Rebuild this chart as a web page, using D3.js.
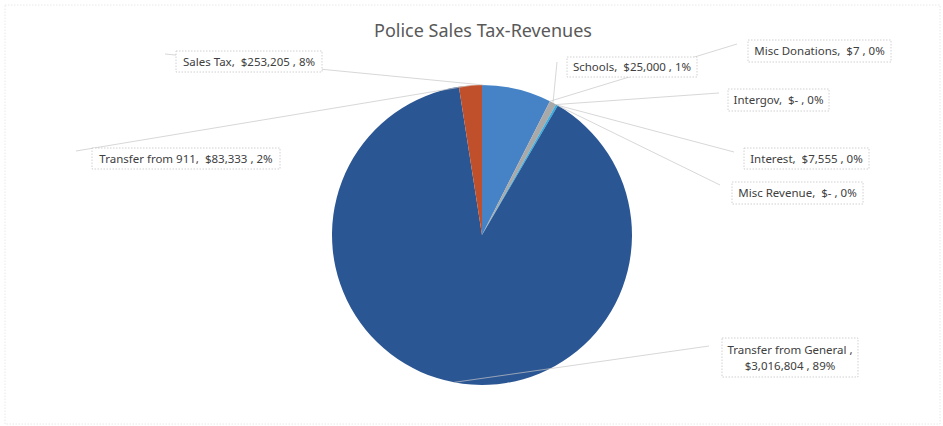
<!DOCTYPE html>
<html>
<head>
<meta charset="utf-8">
<script src="https://cdn.jsdelivr.net/npm/d3@7"></script>
<style>
  body { margin: 0; background: #fff; }
  svg { display: block; font-family: "Noto Sans", "Open Sans", sans-serif; }
  .label text { white-space: pre; }
</style>
</head>
<body>
<svg id="chart"></svg>
<script>
const width = 943;
const height = 426;

// Chart data (order as in the source sheet, clockwise from 12 o'clock)
const categories = ["Sales Tax", "Misc Donations", "Schools", "Intergov", "Interest",
  "Misc Revenue", "Transfer from General ", "Transfer from 911"];
const amounts = [253205, 7, 25000, 0, 7555, 0, 3016804, 83333];
const percentLabels = ["8%", "0%", "1%", "0%", "0%", "0%", "89%", "2%"];
const sliceColors = ["#4683c6", "#d9743a", "#a9a9a9", "#f0b92e", "#35aee0", "#6aa84f", "#2b5694", "#c0502b"];

// Label boxes placement (layout only)
const labelLayout = [
  { x: 176, y: 51, w: 146, h: 21, lx: 165, ly: 54, at: 0.02 },
  { x: 748, y: 40, w: 143, h: 22, lx: 737, ly: 44, at: 0.5 },
  { x: 567, y: 57, w: 130, h: 20, lx: 557, ly: 62, at: 0.5 },
  { x: 728, y: 89, w: 101, h: 22, lx: 719, ly: 93, at: 0.5 },
  { x: 744, y: 148, w: 125, h: 21, lx: 734, ly: 152, at: 0.5 },
  { x: 732, y: 182, w: 131, h: 22, lx: 720, ly: 185, at: 0.5 },
  { x: 722, y: 338, w: 136, h: 39, lx: 709, ly: 346, at: 0.5, wrap: true },
  { x: 92, y: 148, w: 188, h: 21, lx: 76, ly: 151, at: 0.5 }
];

const cx = 482, cy = 235, radius = 150;

const svg = d3.select("#chart")
  .attr("width", width)
  .attr("height", height);

// faint chart area border
svg.append("rect")
  .attr("x", 5).attr("y", 5)
  .attr("width", width - 8).attr("height", height - 7)
  .attr("fill", "none")
  .attr("stroke", "#e8e8e8")
  .attr("stroke-dasharray", "1.5 1.5");

svg.append("text")
  .attr("x", 483)
  .attr("y", 37)
  .attr("text-anchor", "middle")
  .attr("fill", "#595959")
  .style("font-size", "18px")
  .text("Police Sales Tax-Revenues");

const money = v => v === 0 ? "$-" : d3.format("$,")(v);

const slices = categories.map((c, i) => ({
  name: c, value: amounts[i], pct: percentLabels[i], color: sliceColors[i], layout: labelLayout[i]
}));

const pie = d3.pie().sort(null).value(d => d.value);
const arcs = pie(slices);

const arc = d3.arc().innerRadius(0).outerRadius(radius);

const pieGroup = svg.append("g")
  .attr("transform", `translate(${cx},${cy})`);

pieGroup.selectAll("path")
  .data(arcs)
  .enter().append("path")
  .attr("d", arc)
  .attr("fill", d => d.data.color);

// Leader lines
const leaders = svg.append("g");
arcs.forEach(d => {
  const L = d.data.layout;
  const a = d.startAngle + (d.endAngle - d.startAngle) * L.at;
  const px = cx + radius * Math.sin(a);
  const py = cy - radius * Math.cos(a);
  leaders.append("line")
    .attr("x1", L.lx).attr("y1", L.ly)
    .attr("x2", px).attr("y2", py)
    .attr("stroke", "#c6c6c6")
    .attr("stroke-width", 0.7);
});

// Label boxes
const labels = svg.selectAll(".label")
  .data(arcs)
  .enter().append("g")
  .attr("class", "label")
  .attr("transform", d => `translate(${d.data.layout.x},${d.data.layout.y})`);

labels.append("rect")
  .attr("width", d => d.data.layout.w)
  .attr("height", d => d.data.layout.h)
  .attr("fill", "#fff")
  .attr("stroke", "#c4c4c4")
  .attr("stroke-width", 0.8)
  .attr("stroke-dasharray", "1.5 1.5");

labels.each(function(d) {
  const g = d3.select(this);
  const L = d.data.layout;
  const t = g.append("text")
    .attr("text-anchor", "middle")
    .attr("fill", "#404040")
    .style("font-size", "11.5px");
  if (L.wrap) {
    t.append("tspan").attr("x", L.w / 2).attr("y", 16).text(`${d.data.name},`);
    t.append("tspan").attr("x", L.w / 2).attr("y", 32).text(`${money(d.data.value)} , ${d.data.pct}`);
  } else {
    t.attr("x", L.w / 2).attr("y", L.h / 2 + 4)
      .text(`${d.data.name},  ${money(d.data.value)} , ${d.data.pct}`);
  }
});
</script>
</body>
</html>
